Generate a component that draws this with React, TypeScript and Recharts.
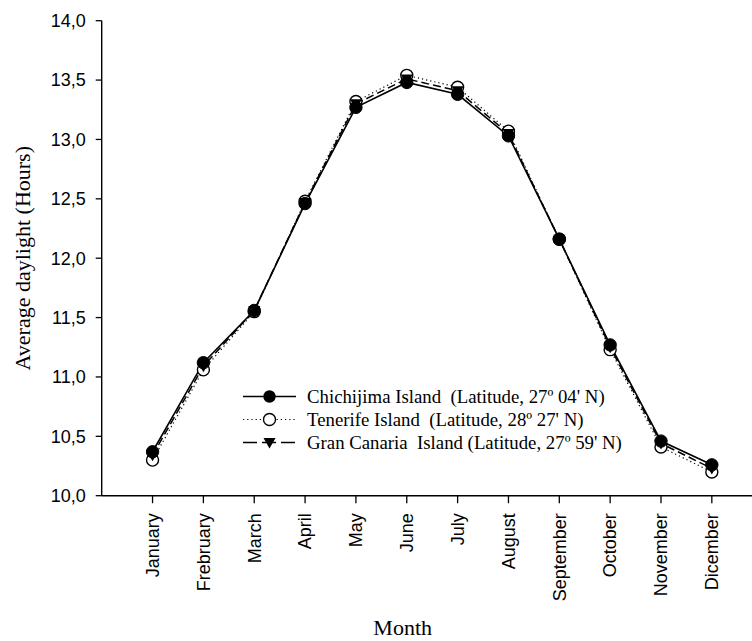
import React from "react";
import { LineChart, Line, XAxis, YAxis, Legend } from "recharts";

const months = ["January", "Frebruary", "March", "April", "May", "June", "July", "August", "September", "October", "November", "Dicember"];
const chichijima = [10.37, 11.12, 11.56, 12.46, 13.27, 13.48, 13.38, 13.03, 12.16, 11.27, 10.46, 10.26];
const tenerife = [10.30, 11.06, 11.55, 12.48, 13.32, 13.54, 13.44, 13.07, 12.16, 11.23, 10.41, 10.20];
const granCanaria = [10.34, 11.09, 11.56, 12.47, 13.30, 13.51, 13.41, 13.05, 12.16, 11.25, 10.44, 10.23];
const yTicks = [10, 10.5, 11, 11.5, 12, 12.5, 13, 13.5, 14];
const seriesNames = [
  "Chichijima Island  (Latitude, 27º 04' N)",
  "Tenerife Island  (Latitude, 28º 27' N)",
  "Gran Canaria  Island (Latitude, 27º 59' N)",
];

const data = months.map((m, i) => ({
  x: i + 1,
  month: m,
  chichijima: chichijima[i],
  tenerife: tenerife[i],
  granCanaria: granCanaria[i],
}));

const SANS = "'Liberation Sans', Arial, sans-serif";
const SERIF = "'Liberation Serif', 'Times New Roman', serif";

const FilledDot = (props: any) => {
  const { cx, cy, index } = props;
  if (cx == null || cy == null) return <g key={`fd${index}`} />;
  return <circle key={`fd${index}`} cx={cx} cy={cy} r={6.2} fill="#000" stroke="#000" strokeWidth={1} />;
};
const OpenDot = (props: any) => {
  const { cx, cy, index } = props;
  if (cx == null || cy == null) return <g key={`od${index}`} />;
  return <circle key={`od${index}`} cx={cx} cy={cy} r={6} fill="#fff" stroke="#000" strokeWidth={1.4} />;
};
const TriDot = (props: any) => {
  const { cx, cy, index } = props;
  if (cx == null || cy == null) return <g key={`td${index}`} />;
  return <path key={`td${index}`} d={`M${cx - 6},${cy - 4.5}L${cx + 6},${cy - 4.5}L${cx},${cy + 6}Z`} fill="#000" />;
};

const MonthTick = (props: any) => {
  const { x, y, payload } = props;
  const label = months[payload.value - 1] ?? "";
  return (
    <g transform={`translate(${x},${y})`}>
      <text transform="rotate(-90)" textAnchor="end" dy="0.35em" x={0} y={0} fill="#000" fontSize={18} fontFamily={SANS}>
        {label}
      </text>
    </g>
  );
};

const LegendContent = () => {
  const rows = [
    { name: seriesNames[0], dash: undefined as string | undefined, marker: "filled" },
    { name: seriesNames[1], dash: "1.2 3", marker: "open" },
    { name: seriesNames[2], dash: "14 5", marker: "tri" },
  ];
  return (
    <div style={{ fontFamily: SERIF, fontSize: 18.8, color: "#000" }}>
      {rows.map((r) => (
        <div key={r.name} style={{ display: "flex", alignItems: "center", height: 23 }}>
          <svg width={64} height={23} style={{ display: "block" }}>
            <line x1={0} y1={11.5} x2={53} y2={11.5} stroke="#000" strokeWidth={r.marker === "open" ? 1.2 : 1.6} strokeDasharray={r.dash} />
            {r.marker === "filled" && <circle cx={26.5} cy={11.5} r={6.2} fill="#000" />}
            {r.marker === "open" && <circle cx={26.5} cy={11.5} r={6} fill="#fff" stroke="#000" strokeWidth={1.4} />}
            {r.marker === "tri" && <path d="M20.5,7L32.5,7L26.5,17.5Z" fill="#000" />}
          </svg>
          <span style={{ whiteSpace: "pre", lineHeight: "23px" }}>{r.name}</span>
        </div>
      ))}
    </div>
  );
};

export default function App() {
  return (
    <div style={{ position: "absolute", left: 0, top: 0, width: 752, height: 641, background: "#fff", overflow: "hidden" }}>
      <LineChart
        width={752}
        height={641}
        data={data}
        margin={{ top: 20.7, right: 0, left: 0, bottom: 35.3 }}
      >
        <XAxis
          dataKey="x"
          type="number"
          domain={[0, 12.79]}
          ticks={[1, 2, 3, 4, 5, 6, 7, 8, 9, 10, 11, 12]}
          allowDataOverflow
          height={110}
          tickSize={7.5}
          tickMargin={10}
          tick={<MonthTick />}
          axisLine={{ stroke: "#000", strokeWidth: 1.4 }}
          tickLine={{ stroke: "#000", strokeWidth: 1.3 }}
          interval={0}
          label={{
            value: "Month",
            content: (p: any) => {
              const vb = p.viewBox;
              return (
                <text x={vb.x + 301} y={vb.y + vb.height + 29} textAnchor="middle" fill="#000" fontSize={22} fontFamily={SERIF}>
                  Month
                </text>
              );
            },
          }}
        />
        <YAxis
          type="number"
          domain={[10, 14]}
          ticks={yTicks}
          width={101.7}
          tickSize={6}
          tickMargin={10}
          tickFormatter={(v: number) => v.toFixed(1).replace(".", ",")}
          tick={{ fill: "#000", fontSize: 18, fontFamily: SANS }}
          axisLine={{ stroke: "#000", strokeWidth: 1.4 }}
          tickLine={{ stroke: "#000", strokeWidth: 1.3 }}
          interval={0}
          label={{
            value: "Average daylight (Hours)",
            content: (p: any) => {
              const vb = p.viewBox;
              const cx = 30;
              const cy = vb.y + vb.height / 2;
              return (
                <text x={cx} y={cy} transform={`rotate(-90, ${cx}, ${cy})`} textAnchor="middle" fill="#000" fontSize={22} fontFamily={SERIF}>
                  Average daylight (Hours)
                </text>
              );
            },
          }}
        />
        <Legend
          layout="vertical"
          align="center"
          verticalAlign="middle"
          content={<LegendContent />}
          wrapperStyle={{ left: 243, top: 384.5, width: 440, position: "absolute" }}
        />
        <Line
          dataKey="tenerife"
          name={seriesNames[1]}
          stroke="#000"
          strokeWidth={1.2}
          strokeDasharray="1.2 3"
          dot={OpenDot}
          isAnimationActive={false}
        />
        <Line
          dataKey="granCanaria"
          name={seriesNames[2]}
          stroke="#000"
          strokeWidth={1.5}
          strokeDasharray="8 4"
          dot={TriDot}
          isAnimationActive={false}
        />
        <Line
          dataKey="chichijima"
          name={seriesNames[0]}
          stroke="#000"
          strokeWidth={1.6}
          dot={FilledDot}
          isAnimationActive={false}
        />
      </LineChart>
    </div>
  );
}
